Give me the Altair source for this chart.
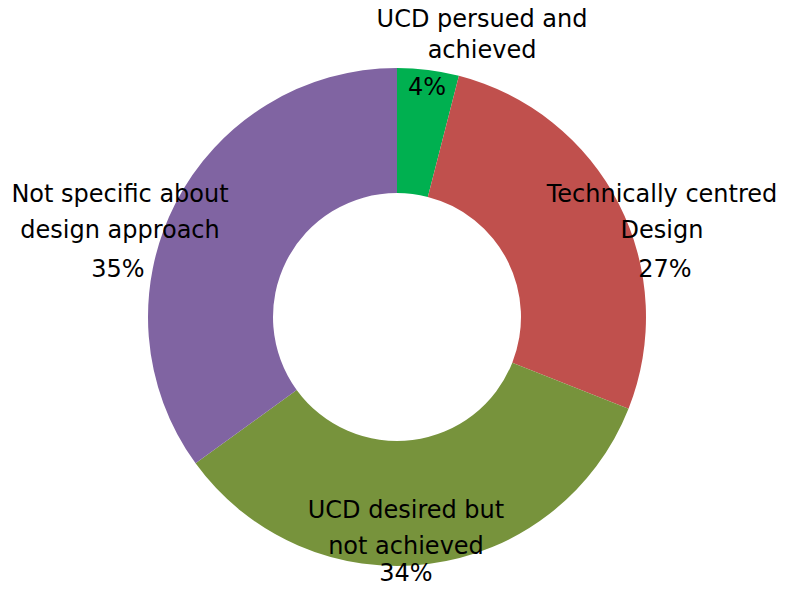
import altair as alt
import pandas as pd

categories = ["UCD persued and achieved", "Technically centred Design",
              "UCD desired but not achieved", "Not specific about design approach"]
values = [4, 27, 34, 35]
colors = ["#00B050", "#C0504D", "#77933C", "#8064A2"]
label_lines = [["UCD persued and", "achieved"], ["Technically centred", "Design"],
               ["UCD desired but", "not achieved"], ["Not specific about", "design approach"]]

df = pd.DataFrame({
    "category": categories,
    "value": values,
    "order": list(range(len(categories))),
})

W, H = 770, 579
CX, CY = 389, 309

donut = alt.Chart(df).mark_arc(
    outerRadius=249, innerRadius=124, x=CX, y=CY
).encode(
    theta=alt.Theta("value:Q", stack=True),
    order=alt.Order("order:Q"),
    color=alt.Color("category:N", scale=alt.Scale(domain=categories, range=colors), legend=None),
)

# label anchor positions (annotation placement, pixel coords inside plot area)
name_pos = [(474, 12), (654, 187), (398, 503), (112, 187)]
line_h = [31, 36, 36, 36]
pct_pos = [(419, 80), (657, 262), (398, 566), (110, 262)]

FONT = dict(font="DejaVu Sans", fontSize=24, color="black")

layers = [donut]
for i, cat in enumerate(categories):
    lx, ly = name_pos[i]
    px, py = pct_pos[i]
    sub = alt.Chart(df).transform_filter(alt.datum.category == cat)
    layers.append(
        sub.transform_calculate(lbl=f"{label_lines[i]!r}")
        .mark_text(lineHeight=line_h[i], baseline="middle", align="center", **FONT)
        .encode(x=alt.value(lx), y=alt.value(ly), text=alt.Text("lbl:N"))
    )
    layers.append(
        sub.transform_calculate(pct="datum.value + '%'")
        .mark_text(baseline="middle", align="center", **FONT)
        .encode(x=alt.value(px), y=alt.value(py), text=alt.Text("pct:N"))
    )

chart = alt.layer(*layers).properties(
    width=W, height=H, padding=0, autosize=alt.AutoSizeParams(type="none"), background="white"
).configure_view(stroke=None)

chart.save("out.html", embed_options={"renderer": "svg", "actions": False})
